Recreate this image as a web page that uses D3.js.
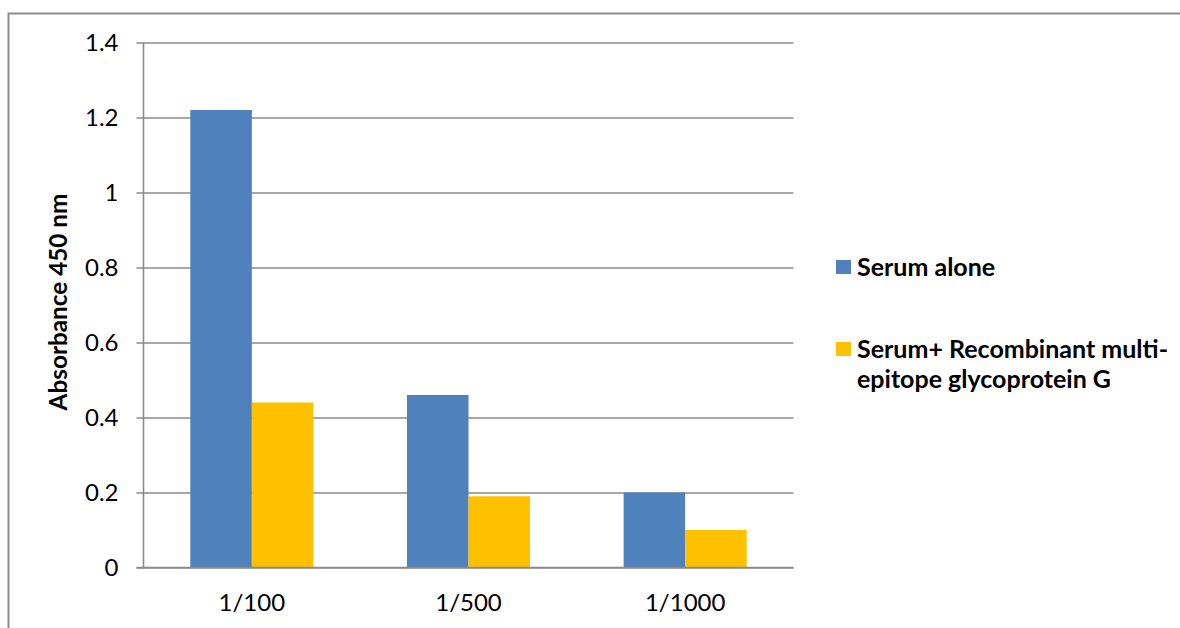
<!DOCTYPE html>
<html>
<head>
<meta charset="utf-8">
<script src="https://cdn.jsdelivr.net/npm/d3@7/dist/d3.min.js"></script>
<style>
  html, body { margin: 0; padding: 0; background: #fff; }
  svg { display: block; }
  text { font-family: Lato, "Open Sans", sans-serif; fill: #000; }
</style>
</head>
<body>
<svg id="chart" width="1180" height="628"></svg>
<script>
// Dilutions tested and mean absorbance readings
const dilutions = ["1/100", "1/500", "1/1000"];
const seriesNames = ["Serum alone", "Serum+ Recombinant multi-epitope glycoprotein G"];
const serumAlone = [1.22, 0.46, 0.20];
const serumPlusProtein = [0.44, 0.19, 0.10];
const yTicks = [0, 0.2, 0.4, 0.6, 0.8, 1, 1.2, 1.4];
const colors = ["#4F81BD", "#FFC000"];

const svg = d3.select("#chart");

// outer chart frame (runs off the right and bottom edges)
svg.append("rect")
  .attr("x", 8.5).attr("y", 13.5)
  .attr("width", 1200).attr("height", 700)
  .attr("fill", "none").attr("stroke", "#8c8c8c").attr("stroke-width", 2);

const plot = { left: 143.5, right: 793.5, top: 42.5, bottom: 567.5 };

const x = d3.scaleBand().domain(dilutions)
  .range([plot.left, plot.right]).paddingInner(0.432).paddingOuter(0.216);
const xSeries = d3.scaleBand().domain(d3.range(seriesNames.length))
  .range([0, x.bandwidth()]);
const y = d3.scaleLinear().domain([0, 1.4]).range([plot.bottom, plot.top]);

// horizontal gridlines with left tick marks
const yAxis = d3.axisLeft(y).tickValues(yTicks)
  .tickSize(-(plot.right - plot.left)).tickPadding(18)
  .tickFormat(d => d3.format("")(+d.toFixed(1)));
const gy = svg.append("g").attr("transform", `translate(${plot.left},0)`).call(yAxis);
gy.select(".domain").remove();
gy.selectAll(".tick line")
  .attr("x1", -7)
  .attr("stroke", "#8a8a8a").attr("stroke-width", 1.6);
gy.selectAll(".tick text")
  .attr("x", -25)
  .style("font-size", "24px").attr("fill", "#000");

// vertical value axis line
svg.append("line")
  .attr("x1", plot.left).attr("x2", plot.left)
  .attr("y1", plot.top).attr("y2", plot.bottom)
  .attr("stroke", "#8a8a8a").attr("stroke-width", 1.6);

// bars
const rows = dilutions.map((d, i) => ({ dilution: d, values: [serumAlone[i], serumPlusProtein[i]] }));
const groups = svg.append("g").selectAll("g").data(rows).join("g")
  .attr("transform", d => `translate(${x(d.dilution)},0)`);
groups.selectAll("rect").data(d => d.values.map((v, k) => ({ v, k }))).join("rect")
  .attr("x", d => xSeries(d.k))
  .attr("width", xSeries.bandwidth())
  .attr("y", d => y(d.v))
  .attr("height", d => y(0) - y(d.v))
  .attr("fill", d => colors[d.k]);

// category axis (line redrawn over bar bases)
const xAxis = d3.axisBottom(x).tickSize(0).tickPadding(26);
const gx = svg.append("g").attr("transform", `translate(0,${plot.bottom})`).call(xAxis);
gx.select(".domain").remove();
gx.selectAll(".tick text").style("font-size", "24px").attr("fill", "#000");
svg.append("line")
  .attr("x1", plot.left - 7).attr("x2", plot.right)
  .attr("y1", plot.bottom).attr("y2", plot.bottom)
  .attr("stroke", "#8a8a8a").attr("stroke-width", 1.6);

// y axis title
svg.append("text")
  .attr("transform", `translate(67,302) rotate(-90)`)
  .attr("text-anchor", "middle")
  .style("font-size", "24.3px").style("font-weight", "bold")
  .text("Absorbance 450 nm");

// legend
const legendLines = [["Serum alone"], ["Serum+ Recombinant multi-", "epitope glycoprotein G"]];
const legendY = [276, 358];
const legend = svg.append("g");
legendLines.forEach((lines, i) => {
  legend.append("rect")
    .attr("x", 836).attr("y", legendY[i] - 16)
    .attr("width", 15).attr("height", 14)
    .attr("fill", colors[i]);
  const t = legend.append("text")
    .attr("x", 857).attr("y", legendY[i])
    .style("font-size", "25px").style("font-weight", "bold");
  lines.forEach((ln, j) => {
    t.append("tspan").attr("x", 857).attr("dy", j === 0 ? 0 : 30).text(ln);
  });
});
</script>
</body>
</html>
